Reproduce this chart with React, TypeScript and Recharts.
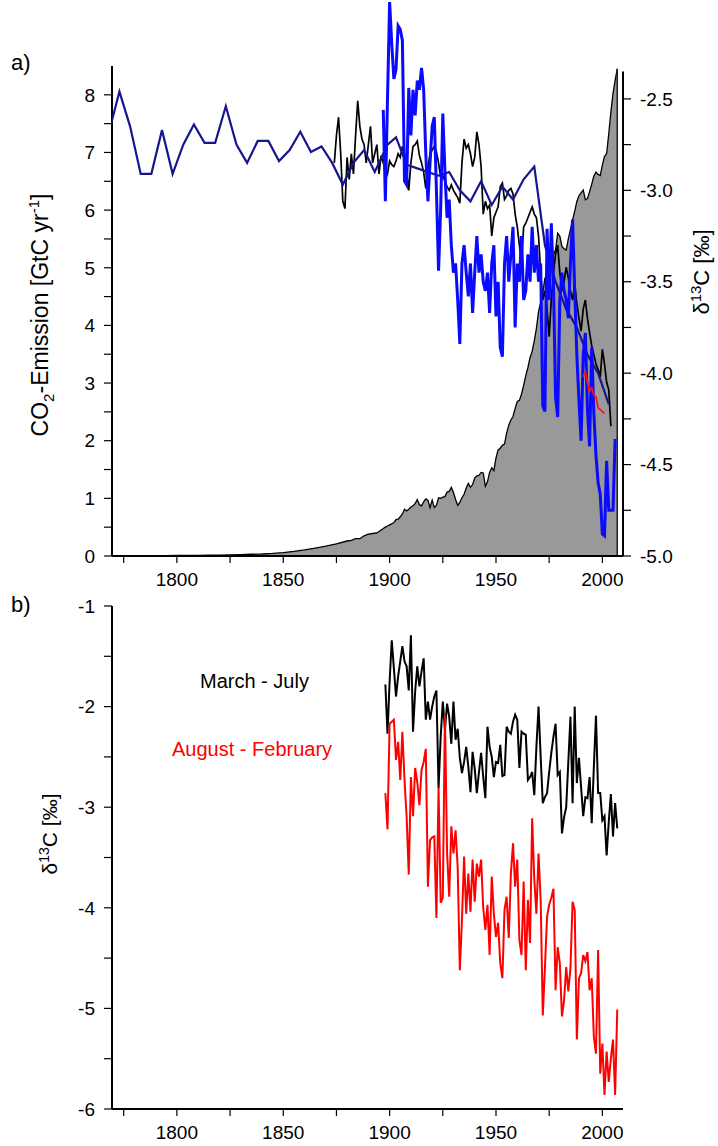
import React from 'react';
import { ComposedChart, LineChart, Line, Area, XAxis, YAxis, ReferenceLine } from 'recharts';

const FONT = '"Liberation Sans", Arial, Helvetica, sans-serif';

// shared x axis
const xDomain = [1769.5, 2009.7];
const xTicks = [1775, 1800, 1825, 1850, 1875, 1900, 1925, 1950, 1975, 2000];

// panel a axes
const co2Ticks = [0, 0.5, 1, 1.5, 2, 2.5, 3, 3.5, 4, 4.5, 5, 5.5, 6, 6.5, 7, 7.5, 8];
const co2AxisTop = 8.5;
const d13TicksA = [-5, -4.75, -4.5, -4.25, -4, -3.75, -3.5, -3.25, -3, -2.75, -2.5];
const d13AxisTopA = -2.35;

// panel b axis
const d13TicksB = [-6, -5.5, -5, -4.5, -4, -3.5, -3, -2.5, -2, -1.5, -1];

// fossil CO2 emission [GtC/yr]
const emissionYears = [
  1769, 1775, 1780, 1785, 1790, 1795, 1800, 1805, 1810, 1815, 1820, 1825, 1830, 1835, 1840, 1845,
  1850, 1855, 1860, 1865, 1870, 1875, 1880, 1882, 1884, 1886, 1888, 1890, 1892, 1894, 1896, 1898, 1899,
  1900, 1901, 1902, 1903, 1904, 1905, 1906, 1907, 1908, 1909, 1910, 1911, 1912, 1913, 1914, 1915, 1916,
  1917, 1918, 1919, 1920, 1921, 1922, 1923, 1924, 1925, 1926, 1927, 1928, 1929, 1930, 1931, 1932, 1933,
  1934, 1935, 1936, 1937, 1938, 1939, 1940, 1941, 1942, 1943, 1944, 1945, 1946, 1947, 1948, 1949, 1950,
  1951, 1952, 1953, 1954, 1955, 1956, 1957, 1958, 1959, 1960, 1961, 1962, 1963, 1964, 1965, 1966, 1967,
  1968, 1969, 1970, 1971, 1972, 1973, 1974, 1975, 1976, 1977, 1978, 1979, 1980, 1981, 1982, 1983, 1984,
  1985, 1986, 1987, 1988, 1989, 1990, 1991, 1992, 1993, 1994, 1995, 1996, 1997, 1998, 1999, 2000, 2001,
  2002, 2003, 2004, 2005, 2006, 2007,
];
const emissionValues = [
  0.003, 0.004, 0.005, 0.006, 0.007, 0.008, 0.009, 0.01, 0.011, 0.013, 0.015, 0.018, 0.025, 0.03, 0.035, 0.045,
  0.06, 0.08, 0.105, 0.135, 0.17, 0.21, 0.26, 0.27, 0.3, 0.3, 0.35, 0.38, 0.39, 0.4, 0.45, 0.5, 0.52,
  0.54, 0.56, 0.58, 0.63, 0.64, 0.68, 0.73, 0.81, 0.78, 0.81, 0.85, 0.87, 0.91, 0.98, 0.89, 0.87, 0.94,
  0.99, 0.97, 0.84, 0.97, 0.84, 0.88, 1.01, 1.0, 1.02, 1.03, 1.11, 1.12, 1.19, 1.1, 0.98, 0.88, 0.93,
  1.01, 1.07, 1.18, 1.26, 1.19, 1.24, 1.35, 1.39, 1.4, 1.45, 1.44, 1.21, 1.29, 1.45, 1.53, 1.48, 1.7,
  1.84, 1.87, 1.92, 1.94, 2.13, 2.27, 2.36, 2.42, 2.56, 2.68, 2.7, 2.81, 2.96, 3.13, 3.27, 3.44, 3.55,
  3.73, 3.95, 4.24, 4.4, 4.57, 4.82, 4.83, 4.8, 5.08, 5.23, 5.31, 5.6, 5.55, 5.37, 5.33, 5.31, 5.5,
  5.66, 5.83, 5.98, 6.15, 6.25, 6.3, 6.35, 6.18, 6.2, 6.32, 6.45, 6.59, 6.66, 6.62, 6.6, 6.78, 6.93,
  6.98, 7.32, 7.7, 8.02, 8.25, 8.45,
];

// long, coarse d13C record (dark blue)
const longYears = [
  1769, 1773, 1778, 1783, 1788, 1793, 1798, 1803, 1808, 1813, 1818, 1823, 1828, 1833, 1838, 1843, 1848,
  1853, 1858, 1863, 1868, 1873, 1878, 1883, 1888, 1893, 1899, 1903, 1908, 1913, 1918, 1923, 1928, 1933,
  1938, 1943, 1948, 1953, 1958, 1963, 1968, 1973, 1978, 1983, 1988, 1993, 1998, 2003,
];
const longValues = [
  -2.64, -2.46, -2.65, -2.91, -2.91, -2.67, -2.91, -2.75, -2.64, -2.74, -2.74, -2.54, -2.75, -2.85, -2.73,
  -2.73, -2.84, -2.78, -2.68, -2.79, -2.76, -2.85, -2.97, -2.85, -2.78, -2.9, -2.75, -2.71, -2.86, -2.88,
  -2.9, -2.92, -2.9, -3.0, -3.06, -2.95, -3.08, -2.98, -3.05, -2.94, -2.87, -3.3, -3.5, -3.65, -3.75,
  -3.9, -4.0, -4.17,
];

// annual d13C, black, panel a (from 1874)
const annualAStart = 1874;
const annualAValues = [
  -2.85, -2.7, -2.6, -2.8, -3.06, -3.1, -2.82, -2.94, -2.8, -2.91, -2.7, -2.51, -2.65, -2.72, -2.75, -2.85,
  -2.75, -2.65, -2.85, -2.8, -2.75, -2.91, -2.81, -2.85, -2.88, -2.91, -2.84, -2.86, -2.87, -2.84, -2.8,
  -2.82, -2.76, -2.8, -2.9, -3.0, -2.85, -2.76, -2.75, -2.73, -2.81, -2.85, -2.9, -2.99, -2.88, -2.8, -2.78,
  -2.76, -2.79, -2.85, -2.93, -2.92, -2.95, -2.98, -3.0, -2.97, -3.0, -3.02, -3.04, -3.07, -2.85, -2.72,
  -2.77, -2.75, -2.8, -2.87, -2.82, -2.68, -2.75, -2.87, -3.13, -3.06, -3.1, -3.08, -3.25, -3.15, -3.12,
  -3.09, -2.98, -2.96, -3.05, -3.03, -3.0, -2.99, -3.02, -3.13, -3.2, -3.3, -3.4, -3.2, -3.18, -3.15, -3.12,
  -3.09, -3.13, -3.15, -3.25, -3.45, -3.6, -3.55, -3.65, -3.8, -3.6, -3.45, -3.35, -3.3, -3.45, -3.55, -3.5,
  -3.42, -3.48, -3.55, -3.6, -3.51, -3.62, -3.7, -3.77, -3.65, -3.6, -3.7, -3.78, -3.85, -3.9, -3.95, -3.98,
  -4.02, -3.87, -3.95, -4.05, -4.09, -4.29,
];

// annual d13C, bright blue, panel a (from 1897)
const blueStart = 1897;
const blueValues = [
  -2.56, -3.06, -2.5, -1.97, -2.2, -2.39, -2.34, -2.1, -2.12, -2.18, -2.95, -2.97, -2.44, -2.7, -2.45, -2.59,
  -2.4, -2.45, -2.33, -2.45, -2.8, -3.06, -2.85, -2.65, -2.6, -3.0, -3.44, -3.1, -2.58, -2.9, -3.15, -3.05,
  -3.3, -3.45, -3.4, -3.6, -3.84, -3.4, -3.3, -3.45, -3.58, -3.4, -3.67, -3.45, -3.25, -3.45, -3.35, -3.5,
  -3.55, -3.45, -3.67, -3.4, -3.3, -3.69, -3.5, -3.86, -3.91, -3.4, -3.25, -3.5, -3.35, -3.2, -3.75, -3.4,
  -3.5, -3.25, -3.6, -3.55, -3.35, -3.5, -3.2, -3.45, -3.3, -3.5, -3.4, -4.18, -4.21, -3.21, -3.6, -3.18,
  -3.5, -4.13, -4.24, -3.6, -3.45, -3.55, -3.6, -3.7, -3.4, -3.16, -3.55, -3.9, -4.15, -4.37, -3.9, -3.78,
  -4.2, -4.4, -3.86, -4.22, -4.45, -4.6, -4.66, -4.88, -4.89, -4.48, -4.75, -4.75, -4.75, -4.36,
];

// short recent record, red, panel a
const redAStart = 1991;
const redAValues = [-4.02, -3.99, -4.05, -4.1, -4.08, -4.12, -4.13, -4.19, -4.2, -4.21, -4.22];

// panel b: seasonal d13C, 1898-2007
const seasonStart = 1898;
const marchJuly = [
  -1.78, -2.27, -1.75, -1.34, -1.62, -1.9, -1.7, -1.55, -1.4, -1.55, -1.6, -1.84, -1.29, -2.25, -1.85, -1.6,
  -1.8, -1.65, -1.52, -2.13, -1.95, -2.13, -2.0, -1.9, -1.84, -2.81, -2.3, -1.95, -2.23, -1.97, -2.1, -2.37,
  -1.95, -2.33, -2.22, -2.51, -2.66, -2.55, -2.4, -2.6, -2.85, -2.45, -2.62, -2.86, -2.65, -2.46, -2.7, -2.91,
  -2.2, -2.4, -2.5, -2.7, -2.55, -2.56, -2.38, -2.69, -2.68, -2.2, -2.25, -2.27, -2.15, -2.08, -2.13, -2.61,
  -2.25, -2.27, -2.28, -2.73, -2.7, -2.65, -2.88, -2.4, -2.0, -2.5, -2.96, -2.9, -2.86, -2.65, -2.46, -2.3,
  -2.17, -2.68, -2.65, -3.26, -3.1, -3.0, -2.55, -2.1, -2.96, -2.0, -2.76, -2.51, -2.8, -3.09, -2.9, -2.91,
  -2.7, -3.16, -2.6, -2.09, -2.86, -2.86, -3.13, -3.09, -3.48, -3.15, -2.87, -3.29, -2.96, -3.21,
];
const augustFebruary = [
  -2.86, -3.22, -2.17, -2.15, -2.13, -2.53, -2.35, -2.73, -2.25, -2.73, -3.1, -3.67, -2.7, -3.09, -2.61, -2.75,
  -2.98, -2.63, -2.55, -2.42, -3.79, -3.33, -3.3, -3.29, -4.1, -2.81, -3.95, -3.9, -2.08, -3.45, -3.89, -3.19,
  -3.46, -3.23, -3.6, -4.62, -4.12, -3.49, -4.06, -3.66, -4.04, -3.52, -3.94, -3.56, -3.69, -3.52, -4.0, -4.22,
  -3.97, -4.47, -3.69, -4.06, -4.29, -4.15, -4.55, -4.7, -4.02, -3.89, -4.3, -3.66, -3.36, -3.79, -3.52, -4.32,
  -4.47, -3.74, -4.62, -3.92, -4.35, -3.11, -3.72, -4.06, -3.46, -3.92, -5.07, -4.6, -4.09, -3.97, -3.9, -3.81,
  -4.82, -4.39, -4.55, -5.08, -4.92, -4.59, -4.83, -4.6, -3.94, -4.02, -5.31, -4.7, -4.65, -4.47, -4.53, -4.44,
  -4.82, -4.7, -5.28, -5.45, -4.42, -5.65, -5.35, -5.86, -5.43, -5.73, -5.5, -5.31, -5.86, -5.01,
];

const pairRows = (years: number[], values: number[]) => years.map((year, i) => ({ year, v: values[i] }));
const annualRows = (start: number, values: number[]) => values.map((v, i) => ({ year: start + i, v }));

const emissionData = pairRows(emissionYears, emissionValues);
const longData = pairRows(longYears, longValues);
const blackAData = annualRows(annualAStart, annualAValues);
const blueData = annualRows(blueStart, blueValues);
const redAData = annualRows(redAStart, redAValues);
const marchJulyData = annualRows(seasonStart, marchJuly);
const augFebData = annualRows(seasonStart, augustFebruary);

const lastEmission = emissionData[emissionData.length - 1];

const tickStyle = { fill: '#000', fontSize: 19, fontFamily: FONT };
const tickLine = { stroke: '#000', strokeWidth: 1.2 };
const fmtYear = (v: number) => (v % 50 === 0 ? String(v) : '');
const fmtInt = (v: number) => (Number.isInteger(v) ? String(v) : '');
const fmtHalf = (v: number) => (Math.round(v * 4) % 2 === 0 ? v.toFixed(1) : '');

const Titles = () => (
  <svg width={718} height={1146} style={{ position: 'absolute', left: 0, top: 0, pointerEvents: 'none' }}>
    <g fontFamily={FONT} fill="#000">
      <text x={11} y={70} fontSize={22}>a)</text>
      <text x={11} y={612} fontSize={22}>b)</text>
      <text transform="translate(48,315) rotate(-90)" textAnchor="middle" fontSize={23}>
        CO<tspan dy={6} fontSize={15}>2</tspan>
        <tspan dy={-6}>-Emission [GtC yr</tspan>
        <tspan dy={-9} fontSize={15}>-1</tspan>
        <tspan dy={9}>]</tspan>
      </text>
      <text transform="translate(709,272) rotate(-90)" textAnchor="middle" fontSize={22}>
        δ<tspan dy={-8} fontSize={15}>13</tspan>
        <tspan dy={8}>C [‰]</tspan>
      </text>
      <text transform="translate(57,834) rotate(-90)" textAnchor="middle" fontSize={21}>
        δ<tspan dy={-8} fontSize={14}>13</tspan>
        <tspan dy={8}>C [‰]</tspan>
      </text>
      <text x={200} y={688} fontSize={20}>March - July</text>
      <text x={172} y={756} fontSize={20} fill="#ff0000">August - February</text>
    </g>
  </svg>
);

export default function App() {
  return (
    <div style={{ position: 'absolute', left: 0, top: 0, width: 718, height: 1146, background: '#fff' }}>
      <div style={{ position: 'absolute', left: 0, top: 0 }}>
        <ComposedChart width={718} height={590} margin={{ top: 2, right: 35, bottom: 4, left: 62 }}>
          <XAxis
            type="number"
            dataKey="year"
            domain={xDomain}
            allowDataOverflow
            ticks={xTicks}
            interval={0}
            tickFormatter={fmtYear}
            tickSize={7}
            tickMargin={10}
            height={30}
            axisLine={{ stroke: '#000', strokeWidth: 2 }}
            tickLine={tickLine}
            tick={tickStyle}
          />
          <YAxis
            yAxisId="co2"
            type="number"
            domain={[0, 9.61]}
            ticks={co2Ticks}
            interval={0}
            tickFormatter={fmtInt}
            tickSize={8}
            tickMargin={9}
            width={50}
            axisLine={false}
            tickLine={tickLine}
            tick={tickStyle}
          />
          <YAxis
            yAxisId="d13"
            orientation="right"
            type="number"
            domain={[-5, -1.98]}
            ticks={d13TicksA}
            interval={0}
            tickFormatter={fmtHalf}
            tickSize={8}
            tickMargin={9}
            width={60}
            axisLine={false}
            tickLine={tickLine}
            tick={tickStyle}
          />
          <Area
            yAxisId="co2"
            data={emissionData}
            dataKey="v"
            type="linear"
            fill="#999999"
            fillOpacity={1}
            stroke="#000"
            strokeWidth={1.3}
            dot={false}
            activeDot={false}
            isAnimationActive={false}
          />
          <ReferenceLine
            yAxisId="co2"
            ifOverflow="visible"
            segment={[{ x: lastEmission.year, y: 0 }, { x: lastEmission.year, y: lastEmission.v }]}
            stroke="#222"
            strokeWidth={1.5}
          />
          <ReferenceLine
            yAxisId="co2"
            ifOverflow="visible"
            segment={[{ x: xDomain[0], y: 0 }, { x: xDomain[0], y: co2AxisTop }]}
            stroke="#000"
            strokeWidth={2}
          />
          <ReferenceLine
            yAxisId="d13"
            ifOverflow="visible"
            segment={[{ x: xDomain[1], y: -5 }, { x: xDomain[1], y: d13AxisTopA }]}
            stroke="#000"
            strokeWidth={2}
          />
          <Line yAxisId="d13" data={blackAData} dataKey="v" type="linear" stroke="#000" strokeWidth={1.7} dot={false} activeDot={false} isAnimationActive={false} />
          <Line yAxisId="d13" data={longData} dataKey="v" type="linear" stroke="#16168e" strokeWidth={2.2} dot={false} activeDot={false} isAnimationActive={false} />
          <Line yAxisId="d13" data={blueData} dataKey="v" type="linear" stroke="#0a0aff" strokeWidth={3} dot={false} activeDot={false} isAnimationActive={false} />
          <Line yAxisId="d13" data={redAData} dataKey="v" type="linear" stroke="#ff1010" strokeWidth={1.7} dot={false} activeDot={false} isAnimationActive={false} />
        </ComposedChart>
      </div>
      <div style={{ position: 'absolute', left: 0, top: 580 }}>
        <LineChart width={718} height={566} margin={{ top: 26, right: 95, bottom: 7, left: 62 }}>
          <XAxis
            type="number"
            dataKey="year"
            domain={xDomain}
            allowDataOverflow
            ticks={xTicks}
            interval={0}
            tickFormatter={fmtYear}
            tickSize={7}
            tickMargin={10}
            height={30}
            axisLine={{ stroke: '#000', strokeWidth: 2 }}
            tickLine={tickLine}
            tick={tickStyle}
          />
          <YAxis
            type="number"
            domain={[-6, -1]}
            ticks={d13TicksB}
            interval={0}
            tickFormatter={fmtInt}
            tickSize={8}
            tickMargin={9}
            width={50}
            axisLine={{ stroke: '#000', strokeWidth: 2 }}
            tickLine={tickLine}
            tick={tickStyle}
          />
          <Line data={marchJulyData} dataKey="v" type="linear" stroke="#000" strokeWidth={2} dot={false} activeDot={false} isAnimationActive={false} />
          <Line data={augFebData} dataKey="v" type="linear" stroke="#ff0000" strokeWidth={2} dot={false} activeDot={false} isAnimationActive={false} />
        </LineChart>
      </div>
      <Titles />
    </div>
  );
}
